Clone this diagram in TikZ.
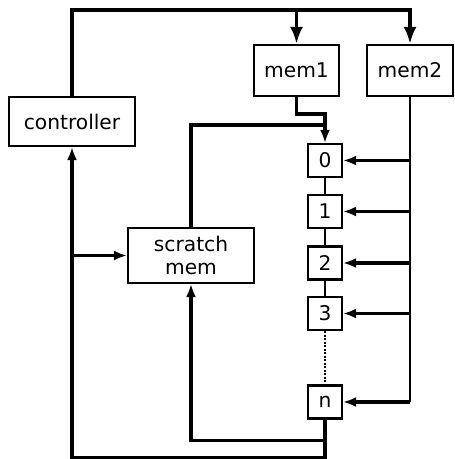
\documentclass[tikz,border=0pt]{standalone}
\usepackage{fontspec}
\setmainfont{DejaVu Sans}
\usetikzlibrary{arrows.meta,calc}

\begin{document}
\begin{tikzpicture}[
    x=0.02cm, y=-0.02cm,
    box/.style={draw, line width=1.2pt, inner sep=0pt, font=\fontsize{11.5}{13.6}\selectfont, align=center},
    cell/.style={box, minimum width=0.68cm, minimum height=0.66cm},
    wire/.style={line width=2pt, -{Latex[length=0.26cm,width=0.2cm]}},
    bigwire/.style={line width=2pt, -{Latex[length=0.34cm,width=0.26cm]}},
    bus/.style={line width=1.3pt}
]
    \useasboundingbox (0,0) rectangle (454,459);

    % blocks
    \node[box, minimum width=2.52cm, minimum height=0.98cm] (ctrl) at (72,121.5) {controller};
    \node[box, minimum width=1.7cm, minimum height=1.02cm] (mem1) at (296.5,70.5) {mem1};
    \node[box, minimum width=1.72cm, minimum height=1.02cm] (mem2) at (410,70.5) {mem2};
    \node[box, minimum width=2.52cm, minimum height=1.1cm] (scratch) at (191,255.5) {scratch\\mem};

    % register chain
    \node[cell] (b0) at (325,160.5) {0};
    \node[cell] (b1) at (325,211.5) {1};
    \node[cell] (b2) at (325,263) {2};
    \node[cell] (b3) at (325,313.5) {3};
    \node[cell] (bn) at (325,402) {n};
    \draw[bus] (b0) -- (b1) (b1) -- (b2) (b2) -- (b3);
    \draw[bus, line width=1.6pt, dash pattern=on 1.2pt off 0.8pt] (b3) -- (bn);

    % controller to memories
    \coordinate (topR) at (410,10);
    \draw[bigwire] (ctrl.north) |- (topR) -- (mem2.north);
    \draw[bigwire] (mem1.north |- topR) -- (mem1.north);

    % into cell 0
    \coordinate (join) at (325,125);
    \draw[wire] (mem1.south) -- ++(0,17) -| (b0.north);
    \draw[line width=2pt] (scratch.north) |- (join);

    % mem2 bus
    \draw[bus] (mem2.south) -- (mem2.south |- bn.east);
    \foreach \c in {b0,b1,b2,b3,bn}
        \draw[wire] (mem2.south |- \c.east) -- (\c.east);

    % feedback
    \draw[wire] (bn.south) -- ++(0,38) -| (ctrl.south);
    \draw[wire] (bn.south) -- ++(0,21) -| (scratch.south);
    \draw[wire] (ctrl.south |- scratch.west) -- (scratch.west);

\end{tikzpicture}
\end{document}
